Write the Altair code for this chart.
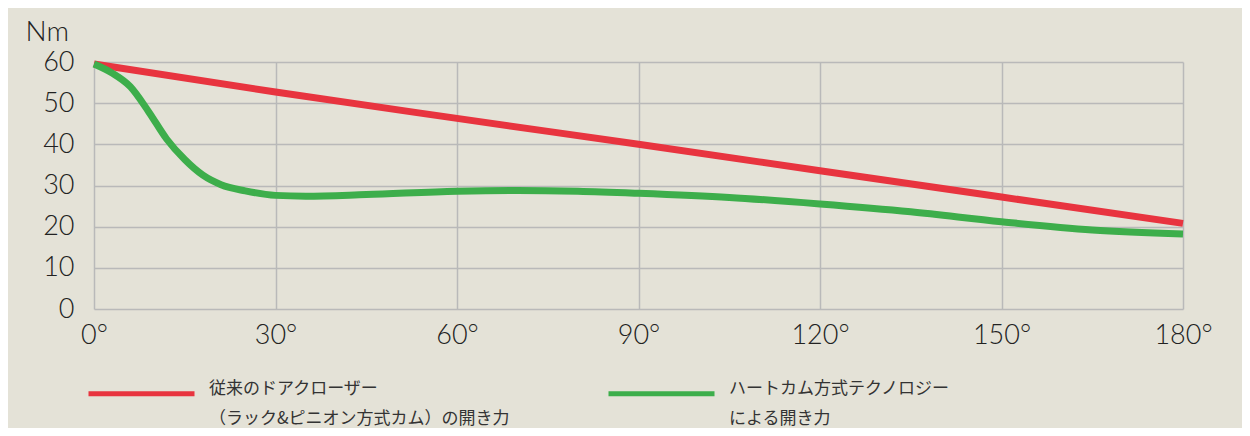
import altair as alt
import pandas as pd

# data
red_name = "従来のドアクローザー\n（ラック&ピニオン方式カム）の開き力"
green_name = "ハートカム方式テクノロジー\nによる開き力"

red_deg = [0, 30, 60, 90, 120, 150, 180]
red_val = [59.5, 52.7, 46.3, 40.0, 33.6, 27.2, 20.8]

green_deg = [0, 3, 6, 9, 12, 15, 18, 21, 25, 30, 35, 45, 60, 70, 80, 90, 105, 120, 135, 150, 165, 180]
green_val = [59.5, 57.3, 54.0, 48.0, 41.3, 36.3, 32.5, 30.2, 28.7, 27.6, 27.4, 27.8, 28.6, 28.8, 28.6, 28.1, 27.1, 25.5, 23.6, 21.2, 19.2, 18.2]

x_ticks = [0, 30, 60, 90, 120, 150, 180]
y_ticks = [0, 10, 20, 30, 40, 50, 60]

series = [red_name, green_name]
colors = ["#e8343f", "#3dae4b"]

rows = [{"deg": d, "val": v, "series": red_name} for d, v in zip(red_deg, red_val)]
rows += [{"deg": d, "val": v, "series": green_name} for d, v in zip(green_deg, green_val)]
df = pd.DataFrame(rows)

FONT = "Lato"

chart = alt.Chart(df).mark_line(strokeWidth=7, interpolate="monotone", strokeCap="butt").encode(
    x=alt.X("deg:Q",
            scale=alt.Scale(domain=[0, 180], nice=False, zero=False),
            axis=alt.Axis(values=x_ticks, labelExpr="datum.value + '°'", title=None,
                          ticks=False, domain=False, grid=True, gridColor="#b9b9b9",
                          gridWidth=1.5, labelFontSize=27, labelFont=FONT, labelFontWeight=300,
                          labelColor="#222", labelPadding=13, labelFlush=False)),
    y=alt.Y("val:Q",
            scale=alt.Scale(domain=[0, 60], nice=False),
            axis=alt.Axis(values=y_ticks, title="Nm", titleAngle=0, titleAlign="left",
                          titleBaseline="alphabetic", titleX=-69, titleY=-22,
                          titleFontSize=28, titleFont=FONT, titleFontWeight=300,
                          titleColor="#222",
                          ticks=False, domain=False, grid=True, gridColor="#b9b9b9",
                          gridWidth=1.5, labelFontSize=27, labelFont=FONT, labelFontWeight=300,
                          labelColor="#222", labelPadding=20)),
    color=alt.Color("series:N",
                    scale=alt.Scale(domain=series, range=colors),
                    legend=alt.Legend(title=None, orient="none", legendX=-8, legendY=276,
                                      direction="horizontal", columns=2, columnPadding=88,
                                      symbolType="stroke", symbolSize=11236,
                                      symbolStrokeWidth=5, labelFont="Noto Sans CJK JP",
                                      labelFontSize=17, labelColor="#333", labelLimit=0,
                                      labelOffset=12, labelBaseline="alphabetic",
                                      labelExpr="split(datum.label, '\\n')")),
).properties(
    width=1089, height=247,
    autosize=alt.AutoSizeParams(type="none"),
    padding={"left": 86, "top": 54, "right": 59, "bottom": 119},
).configure(
    background="#e4e2d7",
    style={"guide-label": {"lineHeight": 30}},
).configure_view(
    stroke=None,
)

chart.save("out.html", embed_options={"renderer": "svg", "actions": False})
